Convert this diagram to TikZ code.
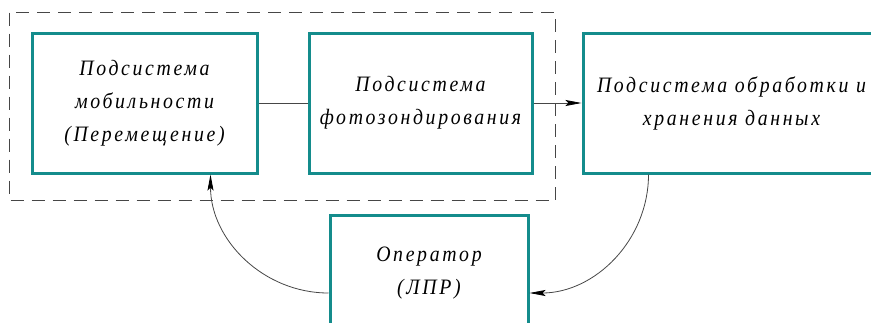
\documentclass[tikz,border=0pt]{standalone}
\usepackage{fontspec}
\newfontfamily\gostfont{Liberation Serif}[LetterSpace=12, FakeStretch=0.9]
\usetikzlibrary{positioning, arrows.meta}
\definecolor{boxteal}{RGB}{20,140,140}
\definecolor{linegray}{RGB}{70,70,70}
\tikzstyle{subsys} = [rectangle, minimum width=225pt, minimum height=140pt, text centered, align=center, draw=boxteal, line width=3pt, font=\gostfont\itshape\fontsize{22}{33}\selectfont]
\tikzstyle{arrow} = [draw=linegray, line width=0.8pt, -{Stealth[length=16pt,width=6pt,inset=3pt,black]}]
\tikzstyle{link} = [draw=linegray, line width=0.8pt]

\begin{document}
\begin{tikzpicture}[x=1pt, y=1pt]

\clip (0,0) rectangle (871,-322);

\node (mob) [subsys] at (144.5,-103) {Подсистема\\мобильности\\(Перемещение)};
\node (photo) [subsys, right=49pt of mob, minimum width=223pt] {Подсистема\\фотозондирования};
\node (data) [subsys, right=48pt of photo, minimum width=297pt] {Подсистема обработки и\\хранения данных};
\node (oper) [subsys, minimum width=198pt, minimum height=116pt] at (429,-273) {Оператор\\(ЛПР)};

\draw [dashed, draw=linegray, line width=0.8pt, dash pattern=on 13pt off 8pt]
  ([xshift=-21pt,yshift=19pt]mob.north west) rectangle ([xshift=22pt,yshift=-26pt]photo.south east);

\draw [link] (mob) -- (photo);
\draw [arrow] (photo) -- (data);

\draw [arrow] ([xshift=67pt]data.south west) to[out=-90, in=0] ([yshift=-20pt]oper.east);
\draw [arrow] ([yshift=-20pt]oper.west) to[out=180, in=-90] ([xshift=-48pt]mob.south east);

\end{tikzpicture}
\end{document}
